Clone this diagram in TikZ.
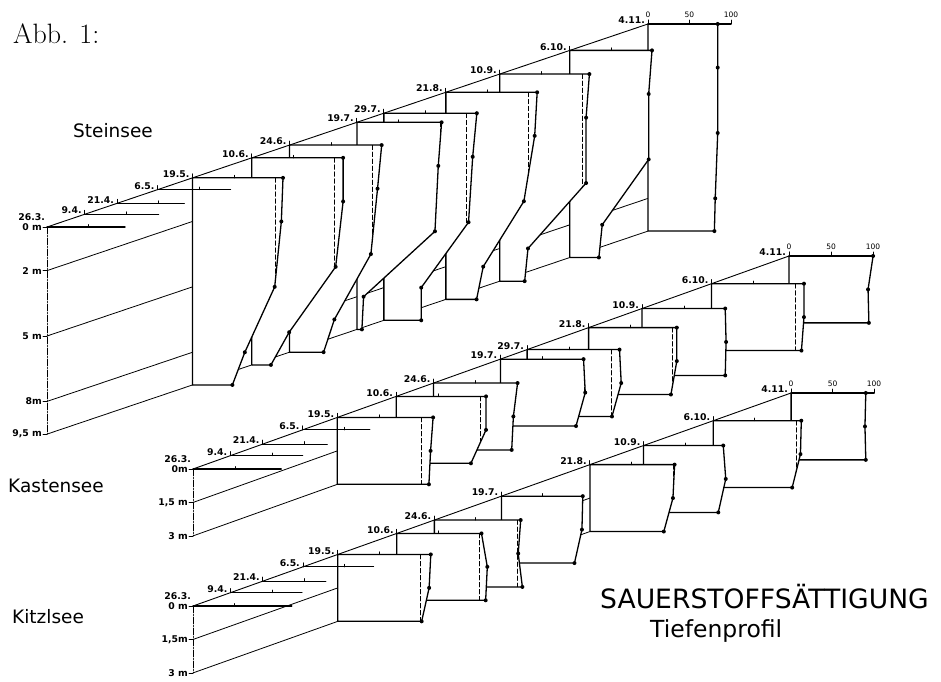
\documentclass[tikz,border=0pt]{standalone}
\usepackage{fontspec}
\newfontfamily\dejavu{DejaVu Sans}
\tikzset{
    profline/.style = {line width=1.3pt, line join=round},
    proffill/.style = {fill=white},
    profdot/.style = {fill=black},
    hundert/.style = {line width=0.8pt, dash pattern=on 4.5pt off 2.5pt},
    depthline/.style = {line width=0.8pt},
    timeaxis/.style = {line width=0.9pt},
    frontaxis/.style = {line width=0.6pt, dash pattern=on 7pt off 1.5pt on 1pt off 1.5pt},
    datelabel/.style = {anchor=south east, inner sep=0pt, font=\dejavu\bfseries\fontsize{9.3}{10}\selectfont},
    depthlabel/.style = {anchor=east, inner sep=0pt, font=\dejavu\bfseries\fontsize{9.3}{10}\selectfont},
    scalelabel/.style = {anchor=south, inner sep=0pt, font=\dejavu\fontsize{7.5}{8}\selectfont},
    lakelabel/.style = {anchor=base west, inner sep=0pt, font=\dejavu\fontsize{18.5}{20}\selectfont},
    steinsee/.style = {shift={(47pt,-227pt)}, x={(2.695pt,0.9104pt)}, y={(0pt,-21.8pt)}, z={(0.83pt,0pt)}},
    kastensee/.style = {shift={(193pt,-469pt)}, x={(2.673pt,0.9553pt)}, y={(0pt,-22.3pt)}, z={(0.84pt,0pt)}},
    kitzlsee/.style = {shift={(193pt,-606pt)}, x={(2.682pt,0.9553pt)}, y={(0pt,-22.3pt)}, z={(0.83pt,0pt)}},
}
% one depth profile: #1 day since 26.3., #2 date, #3 depth/saturation
\newcommand\satprofile[3]{%
  \fill[proffill] (#1,0,0) \foreach \dep/\sat in {#3}{ -- (#1,\dep,\sat) } -- (#1,\tiefe,0) -- cycle;
  \begin{scope}
    \clip (#1,0,0) \foreach \dep/\sat in {#3}{ -- (#1,\dep,\sat) } -- (#1,\tiefe,0) -- cycle;
    \draw[hundert] (#1,0,100) -- (#1,\tiefe,100);
  \end{scope}
  \draw[profline] (#1,0,0) \foreach \dep/\sat in {#3}{ -- (#1,\dep,\sat) } -- (#1,\tiefe,0) -- cycle;
  \foreach \dep/\sat in {#3} \fill[profdot] (#1,\dep,\sat) circle (2pt);
  \draw[timeaxis] (#1,0,50) -- ++(0pt,2.5pt);
  \draw[timeaxis] (#1,0,0) -- ++(0pt,4pt);
  \node[datelabel, xshift=-3pt] at (#1,0,0) {#2};
}
% surface value only: #1 day, #2 date, #3 saturation
\newcommand\surfline[3]{%
  \draw[profline] (#1,0,0) -- (#1,0,#3);
  \draw[timeaxis] (#1,0,50) -- ++(0pt,2.5pt);
  \draw[timeaxis] (#1,0,0) -- ++(0pt,4pt);
  \node[datelabel, xshift=-3pt] at (#1,0,0) {#2};
}
% scale 0 50 100 on the last profile
\newcommand\satscale{%
  \draw[profline] (223,0,0) -- (223,0,100);
  \foreach \p in {0,50,100} {
    \draw[timeaxis] (223,0,\p) -- ++(0pt,4pt);
    \node[scalelabel, yshift=6pt] at (223,0,\p) {\p};
  }
}

\begin{document}
\begin{tikzpicture}[line cap=round]
\useasboundingbox (0pt,0pt) rectangle (941pt,-681pt);
%
\node[anchor=base west, inner sep=0pt, font=\fontsize{28}{30}\selectfont] (abb) at (13pt,-43pt) {Abb. 1:};
\node[lakelabel] (stein) at (73pt,-137pt) {Steinsee};
\node[lakelabel] (kasten) at (8pt,-492pt) {Kastensee};
\node[lakelabel] (kitzl) at (12pt,-623pt) {Kitzlsee};
\node[anchor=base west, inner sep=0pt, font=\dejavu\fontsize{26.6}{28}\selectfont] (titel) at (600pt,-608pt) {SAUERSTOFFSÄTTIGUNG};
\node[anchor=base west, inner sep=0pt, font=\dejavu\fontsize{23.5}{26}\selectfont] (sub) at (650pt,-637pt) {Tiefenprofil};
%
% Steinsee
\def\tiefe{9.5}
\begin{scope}[steinsee]
\foreach \dep in {2,5,8,9.5} \draw[depthline] (0,\dep,0) -- (223,\dep,0);
\draw[frontaxis] (0,0,0) -- (0,9.5,0);
\foreach \dep/\txt in {0/0 m,2/2 m,5/5 m,8/8m,9.5/{9,5 m}} {
  \draw[depthline] (0,\dep,0) -- ++(-4pt,0pt);
  \node[depthlabel, xshift=-5pt] at (0,\dep,0) {\txt};
}
\satprofile{223}{4.11.}{0/84,2/84,5/84,8/81,9.5/80}
\satprofile{194}{6.10.}{0/99,2/95,5/95,8/39,9.5/35}
\satprofile{168}{10.9.}{0/108,2/104,5/104,8/34,9.5/30}
\satprofile{148}{21.8.}{0/110,2/107,5/94,8/45,9.5/37}
\satprofile{125}{29.7.}{0/112,2/107,5/102,8/45,9.5/45}
\satprofile{115}{19.7.}{0/102,2/98,5/94,8/8,9.5/6}
\satprofile{90}{24.6.}{0/111,2/106,5/98,8/54,9.5/41}
\satprofile{76}{10.6.}{0/110,2/110,5/101,8/45,9.5/23}
\satprofile{54}{19.5.}{0/109,2/107,5/99,8/63,9.5/48}
\surfline{41}{6.5.}{88}
\surfline{26}{21.4.}{81}
\surfline{14}{9.4.}{89}
\draw[profline] (0,0,0) -- (0,0,94);
\draw[timeaxis] (0,0,50) -- ++(0pt,2.5pt);
\node[datelabel, xshift=-2pt, yshift=6pt] at (0,0,0) {26.3.};
\draw[timeaxis] (0,0,0) -- (223,0,0);
\satscale
\end{scope}
%
% Kastensee
\def\tiefe{3}
\begin{scope}[kastensee]
\foreach \dep in {1.5,3} \draw[depthline] (0,\dep,0) -- (223,\dep,0);
\draw[frontaxis] (0,0,0) -- (0,3,0);
\foreach \dep/\txt in {0/0m,1.5/{1,5 m},3/3 m} {
  \draw[depthline] (0,\dep,0) -- ++(-4pt,0pt);
  \node[depthlabel, xshift=-5pt] at (0,\dep,0) {\txt};
}
\satprofile{223}{4.11.}{0/100,1.5/94,3/95}
\satprofile{194}{6.10.}{0/110,1.5/110,3/107}
\satprofile{168}{10.9.}{0/99,1.5/100,3/99}
\satprofile{148}{21.8.}{0/105,1.5/105,3/98}
\satprofile{125}{29.7.}{0/110,1.5/112,3/101}
\satprofile{115}{19.7.}{0/99,1.5/101,3/90}
\satprofile{90}{24.6.}{0/100,1.5/95,3/93}
\satprofile{76}{10.6.}{0/107,1.5/107,3/89}
\satprofile{54}{19.5.}{0/114,1.5/111,3/109}
\surfline{41}{6.5.}{80}
\surfline{26}{21.4.}{77}
\surfline{14}{9.4.}{86}
\draw[profline] (0,0,0) -- (0,0,105);
\draw[timeaxis] (0,0,50) -- ++(0pt,2.5pt);
\node[datelabel, xshift=-2pt, yshift=6pt] at (0,0,0) {26.3.};
\draw[timeaxis] (0,0,0) -- (223,0,0);
\satscale
\end{scope}
%
% Kitzlsee
\begin{scope}[kitzlsee]
\foreach \dep in {1.5,3} \draw[depthline] (0,\dep,0) -- (223,\dep,0);
\draw[frontaxis] (0,0,0) -- (0,3,0);
\foreach \dep/\txt in {0/0 m,1.5/{1,5m},3/3 m} {
  \draw[depthline] (0,\dep,0) -- ++(-4pt,0pt);
  \node[depthlabel, xshift=-5pt] at (0,\dep,0) {\txt};
}
\satprofile{223}{4.11.}{0/90,1.5/89,3/90}
\satprofile{194}{6.10.}{0/106,1.5/105,3/95}
\satprofile{168}{10.9.}{0/96,1.5/99,3/90}
\satprofile{148}{21.8.}{0/102,1.5/100,3/89}
\satprofile{115}{19.7.}{0/98,1.5/97,3/88}
\satprofile{90}{24.6.}{0/104,1.5/101,3/106}
\satprofile{76}{10.6.}{0/102,1.5/109,3/107}
\satprofile{54}{19.5.}{0/112,1.5/110,3/101}
\surfline{41}{6.5.}{85}
\surfline{26}{21.4.}{76}
\surfline{14}{9.4.}{86}
\draw[profline] (0,0,0) -- (0,0,119);
\draw[timeaxis] (0,0,50) -- ++(0pt,2.5pt);
\node[datelabel, xshift=-2pt, yshift=6pt] at (0,0,0) {26.3.};
\draw[timeaxis] (0,0,0) -- (223,0,0);
\satscale
\end{scope}

\end{tikzpicture}
\end{document}
